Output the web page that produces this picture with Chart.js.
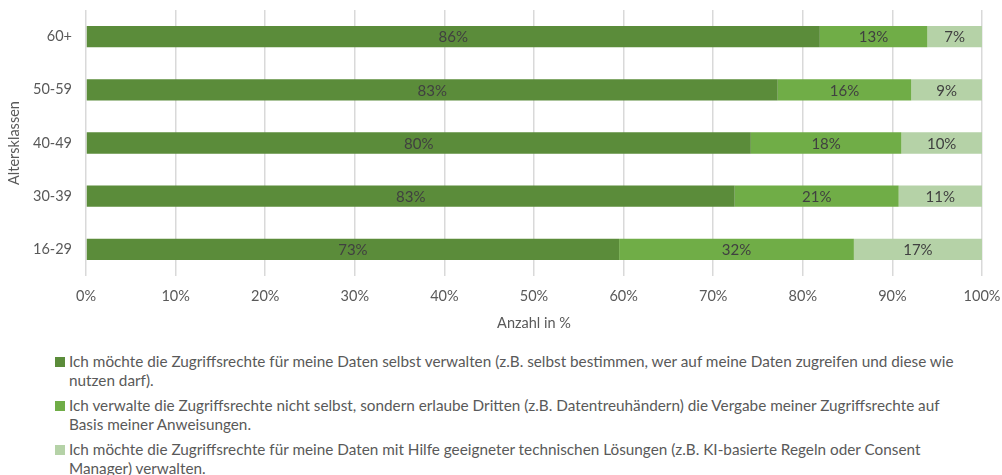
<!DOCTYPE html>
<html>
<head>
<meta charset="utf-8">
<script src="https://cdn.jsdelivr.net/npm/chart.js@4"></script>
<style>
  body { margin: 0; background: #fff; font-family: Lato, sans-serif; }
  #wrap { position: relative; width: 1002px; height: 475px; }
  #chart { position: absolute; left: 0; top: 0; }
  #legend { position: absolute; left: 55px; top: 352px; color: #595959; font-size: 15.3px; }
  .item { position: relative; padding-left: 14px; line-height: 19px; margin-bottom: 6px; white-space: nowrap; }
  .box { position: absolute; left: 0; top: 5px; width: 10px; height: 10px; }
</style>
</head>
<body>
<div id="wrap">
  <canvas id="chart" width="1002" height="340"></canvas>
  <div id="legend"></div>
</div>
<script>
document.addEventListener("DOMContentLoaded", function(e) {
    const labels = ['60+', '50-59', '40-49', '30-39', '16-29'];
    // printed values (multiple answers, rows add up to more than 100)
    const selbst = [86, 83, 80, 83, 73];
    const dritte = [13, 16, 18, 21, 32];
    const technik = [7, 9, 10, 11, 17];
    // bar lengths as share of row
    const selbst_share = [81.9, 77.2, 74.2, 72.4, 59.5];
    const dritte_share = [12.0, 14.9, 16.8, 18.3, 26.2];
    const technik_share = [6.1, 7.9, 9.0, 9.3, 14.3];
    const series_names = [
        ['Ich möchte die Zugriffsrechte für meine Daten selbst verwalten (z.B. selbst bestimmen, wer auf meine Daten zugreifen und diese wie', 'nutzen darf).'],
        ['Ich verwalte die Zugriffsrechte nicht selbst, sondern erlaube Dritten (z.B. Datentreuhändern) die Vergabe meiner Zugriffsrechte auf', 'Basis meiner Anweisungen.'],
        ['Ich möchte die Zugriffsrechte für meine Daten mit Hilfe geeigneter technischen Lösungen (z.B. KI-basierte Regeln oder Consent', 'Manager) verwalten.']
    ];
    const colors = ['#5b8c3a', '#70ad47', '#b5d2a7'];
    const x_ticks = ['0%', '10%', '20%', '30%', '40%', '50%', '60%', '70%', '80%', '90%', '100%'];

    const printed = [selbst, dritte, technik];
    const shares = [selbst_share, dritte_share, technik_share];

    const data = {
        labels: labels,
        datasets: shares.map((vals, k) => ({
            label: series_names[k].join(' '),
            backgroundColor: colors[k],
            borderWidth: 0,
            printed: printed[k],
            data: vals,
            barPercentage: 0.8,
            categoryPercentage: 0.5,
        }))
    };

    const valueLabels = {
        id: 'valueLabels',
        afterDatasetsDraw(chart) {
            const ctx = chart.ctx;
            ctx.save();
            ctx.font = '15px Lato';
            ctx.fillStyle = '#404040';
            ctx.textAlign = 'center';
            ctx.textBaseline = 'middle';
            chart.data.datasets.forEach((ds, k) => {
                chart.getDatasetMeta(k).data.forEach((bar, i) => {
                    ctx.fillText(ds.printed[i] + '%', (bar.x + bar.base) / 2, bar.y + 1);
                });
            });
            ctx.restore();
        }
    };

    const tickFont = { family: 'Lato', size: 14.5 };

    const config = {
        type: 'bar',
        data: data,
        plugins: [valueLabels],
        options: {
            indexAxis: 'y',
            responsive: false,
            animation: false,
            layout: { padding: { top: 10, right: 20, left: 0, bottom: 0 } },
            plugins: {
                legend: { display: false },
                tooltip: { enabled: false }
            },
            scales: {
                x: {
                    stacked: true,
                    min: 0,
                    max: 100,
                    afterFit: function(scale) {
                        scale.height = 64;
                        scale.paddingLeft = 0;
                        scale.paddingRight = 0;
                    },
                    border: { display: false },
                    grid: { color: '#d9d9d9', lineWidth: 1.5, drawTicks: false },
                    ticks: {
                        stepSize: 10,
                        padding: 12,
                        color: '#595959',
                        font: tickFont,
                        callback: function(v, i) { return x_ticks[i]; }
                    },
                    title: {
                        display: true,
                        text: 'Anzahl in %',
                        color: '#595959',
                        font: tickFont,
                        padding: { top: 4, bottom: 8 }
                    }
                },
                y: {
                    stacked: true,
                    afterFit: function(scale) {
                        scale.width = 86;
                        scale.paddingTop = 0;
                        scale.paddingBottom = 0;
                    },
                    border: { display: false },
                    grid: { display: false, drawTicks: false },
                    ticks: {
                        padding: 14,
                        color: '#595959',
                        font: tickFont
                    },
                    title: {
                        display: true,
                        text: 'Altersklassen',
                        color: '#595959',
                        font: tickFont,
                        padding: { top: 6, bottom: 4 }
                    }
                }
            }
        }
    };

    const chart = new Chart(document.getElementById('chart'), config);

    // legend as html so the long entries can wrap over two lines
    const legend = document.getElementById('legend');
    chart.data.datasets.forEach((ds, k) => {
        const item = document.createElement('div');
        item.className = 'item';
        const box = document.createElement('span');
        box.className = 'box';
        box.style.background = ds.backgroundColor;
        item.appendChild(box);
        series_names[k].forEach((line, j) => {
            if (j > 0) item.appendChild(document.createElement('br'));
            item.appendChild(document.createTextNode(line));
        });
        legend.appendChild(item);
    });
});
</script>
</body>
</html>
